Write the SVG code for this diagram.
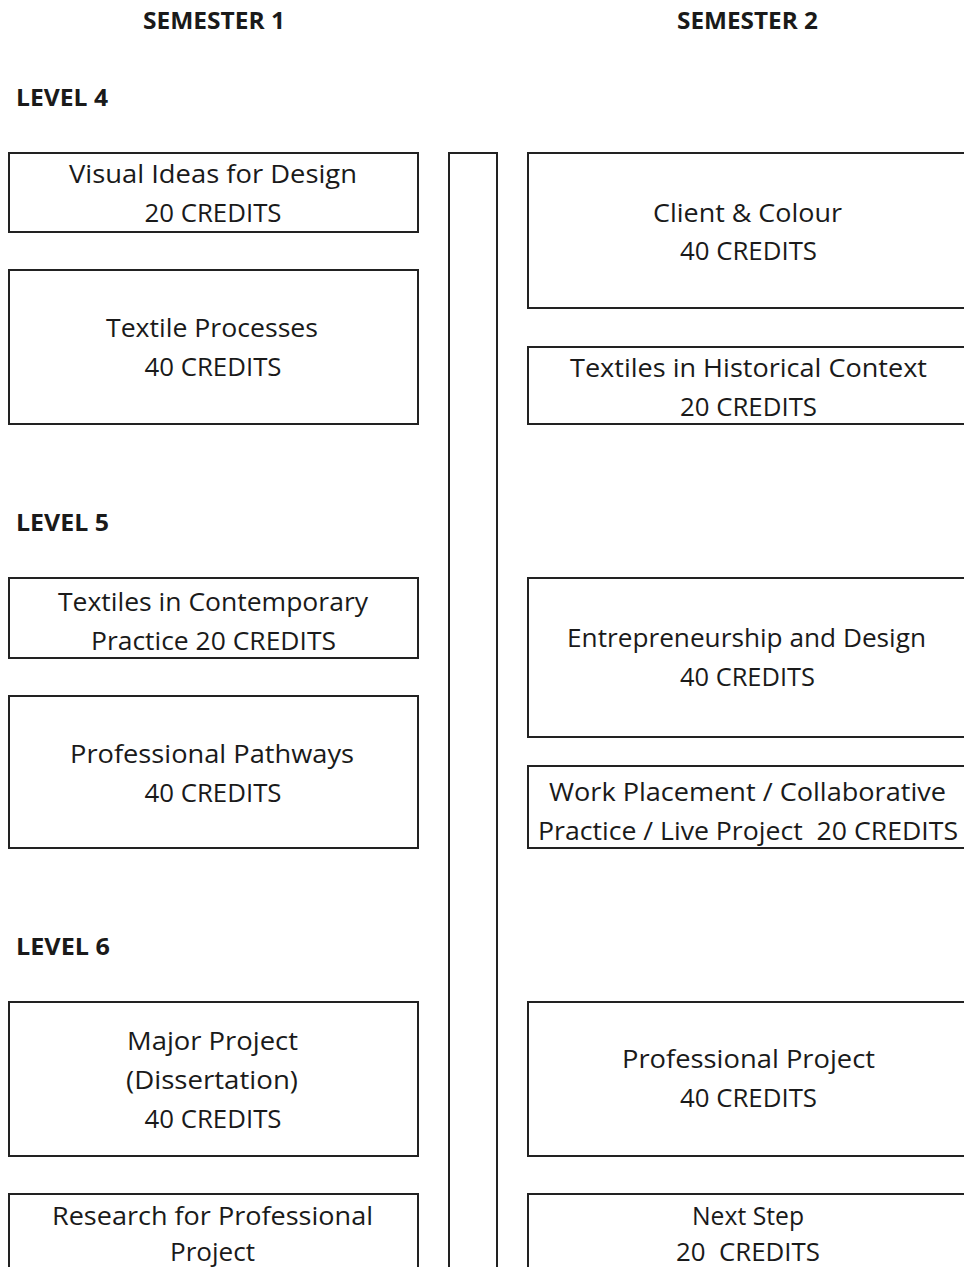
<svg xmlns="http://www.w3.org/2000/svg" width="964" height="1267" viewBox="0 0 964 1267">
<style>
.box{fill:#fff;stroke:#222;stroke-width:2}
text{font-family:"Open Sans","Noto Sans",sans-serif;font-size:25px;font-weight:500;fill:#1a1a1a;text-anchor:middle}
.h{font-weight:bold;font-size:23px}
.l{text-anchor:start}
</style>
<rect width="964" height="1267" fill="#fff"/>
<g id="headings">
<text class="h" x="214" y="29" textLength="142" lengthAdjust="spacingAndGlyphs">SEMESTER 1</text>
<text class="h" x="747.5" y="29" textLength="141" lengthAdjust="spacingAndGlyphs">SEMESTER 2</text>
<text class="h l" x="16" y="106" textLength="92" lengthAdjust="spacingAndGlyphs">LEVEL 4</text>
<text class="h l" x="16" y="531" textLength="93" lengthAdjust="spacingAndGlyphs">LEVEL 5</text>
<text class="h l" x="16" y="955" textLength="94" lengthAdjust="spacingAndGlyphs">LEVEL 6</text>
</g>
<g id="divider"><rect class="box" x="449" y="153" width="48" height="1130"/></g>
<g id="visual-ideas">
<rect class="box" x="9" y="153" width="409" height="79"/>
<text x="213" y="183" textLength="288" lengthAdjust="spacingAndGlyphs">Visual Ideas for Design</text>
<text x="213" y="222" textLength="137" lengthAdjust="spacingAndGlyphs">20 CREDITS</text>
</g>
<g id="textile-processes">
<rect class="box" x="9" y="270" width="409" height="154"/>
<text x="212" y="337" textLength="212" lengthAdjust="spacingAndGlyphs">Textile Processes</text>
<text x="213" y="376" textLength="137" lengthAdjust="spacingAndGlyphs">40 CREDITS</text>
</g>
<g id="client-colour">
<rect class="box" x="528" y="153" width="440" height="155"/>
<text x="747.5" y="222" textLength="189" lengthAdjust="spacingAndGlyphs">Client &amp; Colour</text>
<text x="748.5" y="260" textLength="137" lengthAdjust="spacingAndGlyphs">40 CREDITS</text>
</g>
<g id="historical-context">
<rect class="box" x="528" y="347" width="440" height="77"/>
<text x="748.5" y="377" textLength="357" lengthAdjust="spacingAndGlyphs">Textiles in Historical Context</text>
<text x="748.5" y="416" textLength="137" lengthAdjust="spacingAndGlyphs">20 CREDITS</text>
</g>
<g id="contemporary-practice">
<rect class="box" x="9" y="578" width="409" height="80"/>
<text x="213" y="611" textLength="310" lengthAdjust="spacingAndGlyphs">Textiles in Contemporary</text>
<text x="213.5" y="650" textLength="245" lengthAdjust="spacingAndGlyphs">Practice 20 CREDITS</text>
</g>
<g id="professional-pathways">
<rect class="box" x="9" y="696" width="409" height="152"/>
<text x="212" y="763" textLength="284" lengthAdjust="spacingAndGlyphs">Professional Pathways</text>
<text x="213" y="802" textLength="137" lengthAdjust="spacingAndGlyphs">40 CREDITS</text>
</g>
<g id="entrepreneurship">
<rect class="box" x="528" y="578" width="440" height="159"/>
<text x="746.5" y="647" textLength="359" lengthAdjust="spacingAndGlyphs">Entrepreneurship and Design</text>
<text x="747.5" y="686" textLength="135" lengthAdjust="spacingAndGlyphs">40 CREDITS</text>
</g>
<g id="work-placement">
<rect class="box" x="528" y="766" width="440" height="82"/>
<text x="747.5" y="801" textLength="397" lengthAdjust="spacingAndGlyphs">Work Placement / Collaborative</text>
<text x="748" y="840" textLength="420" lengthAdjust="spacingAndGlyphs" xml:space="preserve">Practice / Live Project  20 CREDITS</text>
</g>
<g id="major-project">
<rect class="box" x="9" y="1002" width="409" height="154"/>
<text x="212.5" y="1050" textLength="171" lengthAdjust="spacingAndGlyphs">Major Project</text>
<text x="212" y="1089" textLength="172" lengthAdjust="spacingAndGlyphs">(Dissertation)</text>
<text x="213" y="1128" textLength="137" lengthAdjust="spacingAndGlyphs">40 CREDITS</text>
</g>
<g id="professional-project">
<rect class="box" x="528" y="1002" width="440" height="154"/>
<text x="748.5" y="1068" textLength="253" lengthAdjust="spacingAndGlyphs">Professional Project</text>
<text x="748.5" y="1107" textLength="137" lengthAdjust="spacingAndGlyphs">40 CREDITS</text>
</g>
<g id="research-project">
<rect class="box" x="9" y="1194" width="409" height="100"/>
<text x="212.5" y="1225" textLength="321" lengthAdjust="spacingAndGlyphs">Research for Professional</text>
<text x="212.5" y="1261" textLength="85" lengthAdjust="spacingAndGlyphs">Project</text>
</g>
<g id="next-step">
<rect class="box" x="528" y="1194" width="440" height="100"/>
<text x="748" y="1225" textLength="112" lengthAdjust="spacingAndGlyphs">Next Step</text>
<text x="748" y="1261" textLength="144" lengthAdjust="spacingAndGlyphs" xml:space="preserve">20  CREDITS</text>
</g>
<g id="connectors"></g>
</svg>
